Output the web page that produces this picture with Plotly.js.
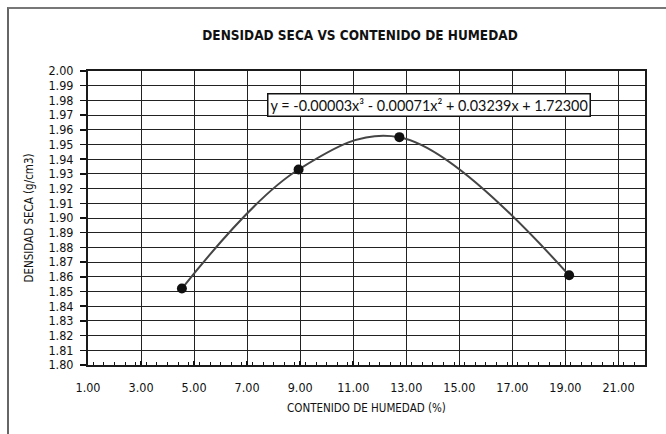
<!DOCTYPE html>
<html>
<head>
<meta charset="utf-8">
<script src="https://cdn.plot.ly/plotly-3.0.1.min.js"></script>
<style>
  html, body { margin: 0; padding: 0; background: #fff; }
  #wrap { position: relative; width: 666px; height: 434px; overflow: hidden; }
  #frame { position: absolute; left: 7px; top: 7px; width: 700px; height: 500px;
           border-left: 2px solid #666; border-top: 2px solid #777; }
  #chart { position: absolute; left: 0; top: 0; width: 666px; height: 434px; }
</style>
</head>
<body>
<div id="wrap">
  <div id="frame"></div>
  <div id="chart"></div>
</div>
<script>
// Data
const humedad = [4.54, 8.94, 12.74, 19.14];           // CONTENIDO DE HUMEDAD (%)
const densidad = [1.852, 1.933, 1.955, 1.861];        // DENSIDAD SECA (g/cm3)
const chartTitle = 'DENSIDAD SECA VS CONTENIDO DE HUMEDAD';
const xTitle = 'CONTENIDO DE HUMEDAD (%)';
const yTitle = 'DENSIDAD SECA (g/cm3)';
const equation = 'y = -0.00003x³ - 0.00071x² + 0.03239x + 1.72300';

const narrow = '"Liberation Sans Narrow", "Arial Narrow", "DejaVu Sans Condensed", "Liberation Sans", sans-serif';

const traces = [
  {
    x: humedad, y: densidad, type: 'scatter', mode: 'lines',
    line: { shape: 'spline', smoothing: 1.05, color: '#454545', width: 2 },
    hoverinfo: 'skip', showlegend: false
  },
  {
    x: humedad, y: densidad, type: 'scatter', mode: 'markers',
    marker: { color: '#111', size: 10 },
    showlegend: false
  }
];

const layout = {
  width: 666, height: 434,
  margin: { l: 88, r: 21, t: 71, b: 69 },
  paper_bgcolor: 'rgba(0,0,0,0)',
  plot_bgcolor: '#fff',
  showlegend: false,
  font: { family: narrow, color: '#111', size: 12 },
  title: {
    text: '<b>' + chartTitle + '</b>',
    font: { family: narrow, size: 13.5, color: '#111' },
    x: (360 - 88) / 557, xanchor: 'center', xref: 'paper',
    y: 1 - 35 / 434, yanchor: 'middle', yref: 'container'
  },
  xaxis: {
    range: [1, 22], dtick: 2, tick0: 1, tickformat: '.2f',
    showgrid: true, gridcolor: '#222', gridwidth: 1,
    showline: true, linecolor: '#1a1a1a', linewidth: 2, mirror: true,
    ticks: 'inside', ticklen: 4, tickcolor: '#111', tickwidth: 1.5,
    minor: { dtick: 0.4, ticks: 'inside', ticklen: 3, tickcolor: '#111', tickwidth: 1, showgrid: false },
    tickfont: { family: narrow, size: 12.5, color: '#111' },
    ticklabelstandoff: 10,
    zeroline: false, fixedrange: true,
    title: { text: xTitle, font: { family: narrow, size: 11.5, color: '#111' }, standoff: 10 }
  },
  yaxis: {
    range: [1.80, 2.00], dtick: 0.01, tick0: 1.80, tickformat: '.2f',
    showgrid: true, gridcolor: '#222', gridwidth: 1,
    showline: true, linecolor: '#1a1a1a', linewidth: 2, mirror: true,
    ticks: 'outside', ticklen: 6, tickcolor: '#111', tickwidth: 1.5,
    tickfont: { family: narrow, size: 12.5, color: '#111' },
    ticklabelstandoff: 4,
    zeroline: false, fixedrange: true,
    title: { text: yTitle, font: { family: narrow, size: 11.5, color: '#111' }, standoff: 12 }
  },
  annotations: [
    {
      text: equation, xref: 'paper', yref: 'paper',
      x: (428.5 - 88) / 557, y: (365 - 105.5) / 294,
      xanchor: 'center', yanchor: 'middle', showarrow: false,
      font: { family: 'Lato, "Liberation Sans", Arial, sans-serif', size: 14.4, color: '#111' },
      bgcolor: '#fff', bordercolor: '#111', borderwidth: 1.5, borderpad: 2
    }
  ]
};

Plotly.newPlot('chart', traces, layout, { displayModeBar: false, staticPlot: true });
</script>
</body>
</html>
